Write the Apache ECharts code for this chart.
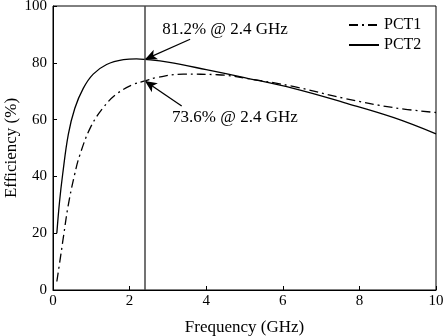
<!DOCTYPE html>
<html>
<head>
<meta charset="utf-8">
<script src="https://cdn.jsdelivr.net/npm/echarts@6/dist/echarts.min.js"></script>
<style>
  html, body { margin: 0; padding: 0; background: #fff; }
  #chart { width: 444px; height: 336px; }
</style>
</head>
<body>
<div id="chart"></div>
<script>
// Efficiency curves of the two designs
const freqPct1 = [0.1, 0.2, 0.27, 0.4, 0.57, 0.7, 0.97, 1.3, 1.66, 2.1, 2.4, 2.7, 3.4, 4.3, 5.1, 6.3, 7.6, 8.9, 10];
const effPct1  = [3, 12, 18.5, 30, 41, 47.5, 57, 64, 69, 72.4, 73.6, 74.8, 76, 75.8, 74.4, 71.6, 67.5, 64.2, 62.5];

const freqPct2 = [0.1, 0.17, 0.25, 0.4, 0.57, 0.79, 1.05, 1.4, 1.84, 2.18, 2.4, 3, 4, 5, 6.3, 7.6, 8.9, 10];
const effPct2  = [20, 31, 40.5, 54.8, 64, 71, 76, 79.4, 81.1, 81.4, 81.2, 80.2, 77.6, 74.8, 70.9, 66, 60.7, 55];

// Axis ticks
const xTicks = [0, 2, 4, 6, 8, 10];
const yTicks = [0, 20, 40, 60, 80, 100];

// Highlighted operating point
const markerFreq = 2.4;
const markerEff1 = 73.6;
const markerEff2 = 81.2;
const label1 = '73.6% @ 2.4 GHz';
const label2 = '81.2% @ 2.4 GHz';

const FONT = 'Liberation Serif';
const pairs = (xs, ys) => xs.map((x, i) => [x, ys[i]]);

const chart = echarts.init(document.getElementById('chart'));
chart.setOption({
  animation: false,
  textStyle: { fontFamily: FONT, color: '#000' },
  grid: {
    left: 53, right: 8, top: 6, bottom: 46,
    containLabel: false,
    outerBoundsMode: 'none',
    show: true, borderColor: '#000', borderWidth: 1
  },
  legend: {
    orient: 'vertical',
    left: 348, top: 17,
    padding: 0,
    itemWidth: 30, itemHeight: 14, itemGap: 4,
    itemStyle: { opacity: 0 },
    textStyle: { fontFamily: FONT, fontSize: 16, color: '#000' },
    data: ['PCT1', 'PCT2']
  },
  xAxis: {
    type: 'value',
    min: xTicks[0], max: xTicks[xTicks.length - 1], interval: 2,
    name: 'Frequency (GHz)', nameLocation: 'middle', nameGap: 29,
    nameMoveOverlap: false,
    nameTextStyle: { fontFamily: FONT, fontSize: 17, color: '#000' },
    axisLine: { lineStyle: { color: '#000', width: 1 } },
    axisTick: { inside: true, length: 4, lineStyle: { color: '#000' } },
    axisLabel: { fontFamily: FONT, fontSize: 15, color: '#000', margin: 4 },
    splitLine: { show: false }
  },
  yAxis: {
    type: 'value',
    min: yTicks[0], max: yTicks[yTicks.length - 1], interval: 20,
    name: 'Efficiency (%)', nameLocation: 'middle', nameGap: 33,
    nameMoveOverlap: false,
    nameTextStyle: { fontFamily: FONT, fontSize: 17, color: '#000' },
    axisLine: { show: true, lineStyle: { color: '#000', width: 1 } },
    axisTick: { show: true, inside: true, length: 4, lineStyle: { color: '#000' } },
    axisLabel: { fontFamily: FONT, fontSize: 15, color: '#000', margin: 6 },
    splitLine: { show: false }
  },
  series: [
    {
      name: 'PCT1',
      type: 'line',
      data: pairs(freqPct1, effPct1),
      smooth: 0.4,
      symbol: 'none',
      lineStyle: { color: '#000', width: 1.3, type: [9, 4, 2, 4] },
      itemStyle: { color: '#000' },
      z: 3,
      markLine: {
        silent: true,
        symbol: ['none', 'arrow'],
        symbolSize: [8, 12],
        label: { show: false },
        lineStyle: { color: '#000', width: 1.3, type: 'solid' },
        data: [
          [{ coord: [3.58, 88.3] }, { coord: [markerFreq, markerEff2] }],
          [{ coord: [3.36, 64.8] }, { coord: [markerFreq, markerEff1] }]
        ]
      },
      markPoint: {
        silent: true,
        symbol: 'circle',
        symbolSize: 0,
        label: {
          show: true, position: 'inside',
          fontFamily: FONT, fontSize: 17, color: '#000'
        },
        data: [
          { coord: [4.49, 91.8], label: { formatter: label2 } },
          { coord: [4.75, 60.6], label: { formatter: label1 } }
        ]
      }
    },
    {
      name: 'PCT2',
      type: 'line',
      data: pairs(freqPct2, effPct2),
      smooth: 0.4,
      symbol: 'none',
      lineStyle: { color: '#000', width: 1.3, type: 'solid' },
      itemStyle: { color: '#000' },
      z: 3,
      markLine: {
        silent: true,
        symbol: 'none',
        label: { show: false },
        lineStyle: { color: '#444', width: 1.5, type: 'solid' },
        data: [{ xAxis: markerFreq }]
      }
    }
  ]
});
</script>
</body>
</html>
